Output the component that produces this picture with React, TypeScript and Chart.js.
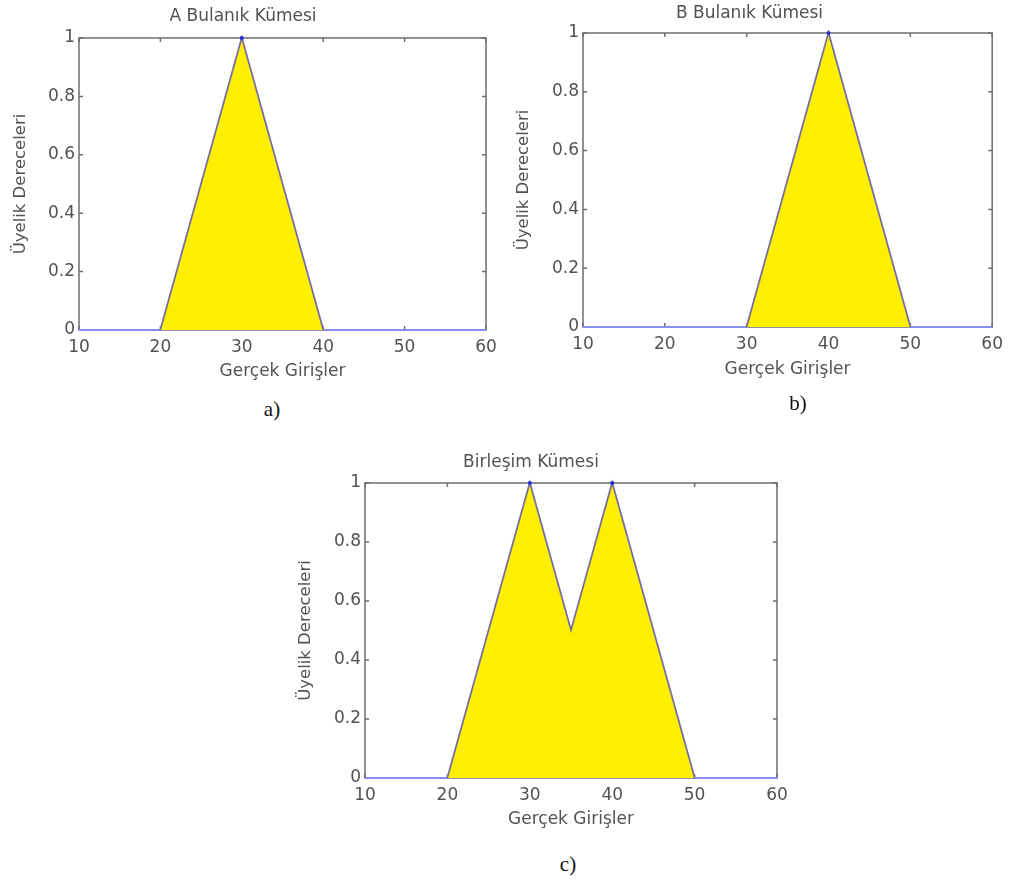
import { useEffect, useRef } from "react";
import { Chart, registerables } from "chart.js";

Chart.register(...registerables);

// Axis ticks shared by all three panels
const X_TICKS = [10, 20, 30, 40, 50, 60];
const Y_TICKS = [0, 0.2, 0.4, 0.6, 0.8, 1];

// Membership functions (input value -> membership degree)
const INPUTS_A = [10, 20, 30, 40, 60];
const MEMBERSHIP_A = [0, 0, 1, 0, 0];
const INPUTS_B = [10, 30, 40, 50, 60];
const MEMBERSHIP_B = [0, 0, 1, 0, 0];
const INPUTS_UNION = [10, 20, 30, 35, 40, 50, 60];
const MEMBERSHIP_UNION = [0, 0, 1, 0.5, 1, 0, 0];

const TITLES = ["A Bulanık Kümesi", "B Bulanık Kümesi", "Birleşim Kümesi"];
const CAPTIONS = ["a)", "b)", "c)"];
const X_TITLE = "Gerçek Girişler";
const Y_TITLE = "Üyelik Dereceleri";

const TEXT_COLOR = "#525252";
const AXIS_COLOR = "#6e6e6e";
const LINE_COLOR = "#8a8af0";
const EDGE_COLOR = "#7a6e94";
const FILL_COLOR = "#fff000";
const PEAK_COLOR = "#2b2bd6";
const FONT_FAMILY = "'DejaVu Sans', 'Liberation Sans', Arial, sans-serif";
const LABEL_SIZE = 17;
const YTITLE_SIZE = 16.5;
const TICK_LEN = 4;

type Box = { left: number; top: number; width: number; height: number };
type Area = { left: number; top: number; right: number; bottom: number };
type PanelDef = {
  title: string;
  caption: string;
  inputs: number[];
  membership: number[];
  canvas: Box;
  area: Area;
  titleY: number;
  xTitleY: number;
  yTitleX: number;
  captionX: number;
  captionY: number;
};

const PANELS: PanelDef[] = [
  {
    title: TITLES[0], caption: CAPTIONS[0], inputs: INPUTS_A, membership: MEMBERSHIP_A,
    canvas: { left: 0, top: 0, width: 505, height: 395 },
    area: { left: 79, top: 38, right: 486, bottom: 330 },
    titleY: 17, xTitleY: 372, yTitleX: 21, captionX: 272, captionY: 399,
  },
  {
    title: TITLES[1], caption: CAPTIONS[1], inputs: INPUTS_B, membership: MEMBERSHIP_B,
    canvas: { left: 505, top: 0, width: 505, height: 395 },
    area: { left: 583, top: 33, right: 994, bottom: 327 },
    titleY: 14, xTitleY: 370, yTitleX: 524, captionX: 798, captionY: 393,
  },
  {
    title: TITLES[2], caption: CAPTIONS[2], inputs: INPUTS_UNION, membership: MEMBERSHIP_UNION,
    canvas: { left: 285, top: 440, width: 520, height: 400 },
    area: { left: 365, top: 483, right: 777, bottom: 778 },
    titleY: 463, xTitleY: 820, yTitleX: 306, captionX: 568, captionY: 854,
  },
];

// MATLAB-like boxed axes with inward tick marks on all four sides
const boxedAxes = {
  id: "boxedAxes",
  beforeDatasetsDraw(chart: any) {
    const { ctx, chartArea, scales } = chart;
    const { left, top, right, bottom } = chartArea;
    ctx.save();
    ctx.strokeStyle = AXIS_COLOR;
    ctx.lineWidth = 1.5;
    ctx.strokeRect(left, top, right - left, bottom - top);
    ctx.beginPath();
    scales.x.ticks.forEach((t: any) => {
      const px = scales.x.getPixelForValue(t.value);
      ctx.moveTo(px, bottom);
      ctx.lineTo(px, bottom - TICK_LEN);
      ctx.moveTo(px, top);
      ctx.lineTo(px, top + TICK_LEN);
    });
    scales.y.ticks.forEach((t: any) => {
      const py = scales.y.getPixelForValue(t.value);
      ctx.moveTo(left, py);
      ctx.lineTo(left + TICK_LEN, py);
      ctx.moveTo(right, py);
      ctx.lineTo(right - TICK_LEN, py);
    });
    ctx.stroke();
    ctx.restore();
  },
};

function Panel({ p }: { p: PanelDef }) {
  const ref = useRef<HTMLCanvasElement>(null);

  useEffect(() => {
    const canvas = ref.current;
    if (!canvas) return;

    const points = p.inputs.map((x, i) => ({ x, y: p.membership[i] }));
    // filled region: from the last zero before the support to the first zero after it
    const firstPos = p.membership.findIndex((v) => v > 0);
    let lastPos = -1;
    p.membership.forEach((v, i) => { if (v > 0) lastPos = i; });
    const patch = points.slice(Math.max(firstPos - 1, 0), Math.min(lastPos + 2, points.length));

    const c = p.canvas;
    const a = p.area;
    const lh = LABEL_SIZE * 1.2;
    const titleTop = p.titleY - c.top - lh / 2;
    const titleBottom = a.top - c.top - titleTop - lh;
    const xTitleBottom = c.top + c.height - p.xTitleY - lh / 2;
    const yTitleTop = p.yTitleX - c.left - (YTITLE_SIZE * 1.2) / 2;

    const font = { family: FONT_FAMILY, size: LABEL_SIZE };

    const chart = new Chart(canvas, {
      type: "line",
      data: {
        datasets: [
          {
            data: patch,
            fill: "origin",
            backgroundColor: FILL_COLOR,
            borderColor: EDGE_COLOR,
            borderWidth: 1.5,
            pointRadius: (ctx: any) => (ctx.raw && ctx.raw.y === 1 ? 2 : 0),
            pointBackgroundColor: PEAK_COLOR,
            pointBorderWidth: 0,
            tension: 0,
            clip: false as any,
          },
          {
            data: points,
            fill: false,
            borderColor: LINE_COLOR,
            borderWidth: 2,
            pointRadius: 0,
            tension: 0,
            clip: false as any,
          },
        ],
      },
      options: {
        animation: false,
        responsive: false,
        devicePixelRatio: 1,
        events: [],
        layout: {
          padding: { left: 0, top: 0, bottom: 0, right: c.left + c.width - a.right },
        },
        plugins: {
          legend: { display: false },
          tooltip: { enabled: false },
          title: {
            display: true,
            text: p.title,
            color: TEXT_COLOR,
            font: { family: FONT_FAMILY, size: LABEL_SIZE, weight: "normal" },
            padding: { top: titleTop, bottom: titleBottom },
          },
        },
        scales: {
          x: {
            type: "linear",
            min: X_TICKS[0],
            max: X_TICKS[X_TICKS.length - 1],
            afterBuildTicks: (s: any) => { s.ticks = X_TICKS.map((value) => ({ value })); },
            afterFit: (s: any) => { s.height = c.top + c.height - a.bottom; },
            grid: { display: false, drawTicks: false },
            border: { display: false },
            ticks: {
              color: TEXT_COLOR, font, padding: 7, maxRotation: 0, autoSkip: false,
              callback: (v: any) => String(Number(v)),
            },
            title: {
              display: true,
              text: X_TITLE,
              color: TEXT_COLOR,
              font,
              padding: { top: 0, bottom: xTitleBottom },
            },
          },
          y: {
            type: "linear",
            min: Y_TICKS[0],
            max: Y_TICKS[Y_TICKS.length - 1],
            afterBuildTicks: (s: any) => { s.ticks = Y_TICKS.map((value) => ({ value })); },
            afterFit: (s: any) => { s.width = a.left - c.left; },
            grid: { display: false, drawTicks: false },
            border: { display: false },
            ticks: {
              color: TEXT_COLOR, font, padding: 4, autoSkip: false,
              callback: (v: any) => String(Number(v)),
            },
            title: {
              display: true,
              text: Y_TITLE,
              color: TEXT_COLOR,
              font: { family: FONT_FAMILY, size: YTITLE_SIZE },
              padding: { top: yTitleTop, bottom: 0 },
            },
          },
        },
      },
      plugins: [boxedAxes],
    } as any);

    return () => chart.destroy();
  }, [p]);

  return (
    <>
      <canvas
        ref={ref}
        width={p.canvas.width}
        height={p.canvas.height}
        style={{
          position: "absolute",
          left: p.canvas.left,
          top: p.canvas.top,
          width: p.canvas.width,
          height: p.canvas.height,
        }}
      />
      <div
        style={{
          position: "absolute",
          left: p.captionX,
          top: p.captionY,
          transform: "translateX(-50%)",
          fontFamily: "'Liberation Serif', 'Times New Roman', serif",
          fontSize: 21,
          lineHeight: "21px",
          color: "#111",
          whiteSpace: "nowrap",
        }}
      >
        {p.caption}
      </div>
    </>
  );
}

export default function App() {
  return (
    <div
      style={{
        position: "absolute",
        left: 0,
        top: 0,
        width: 1010,
        height: 882,
        background: "#fff",
        overflow: "hidden",
      }}
    >
      {PANELS.map((p) => (
        <Panel key={p.title} p={p} />
      ))}
    </div>
  );
}
